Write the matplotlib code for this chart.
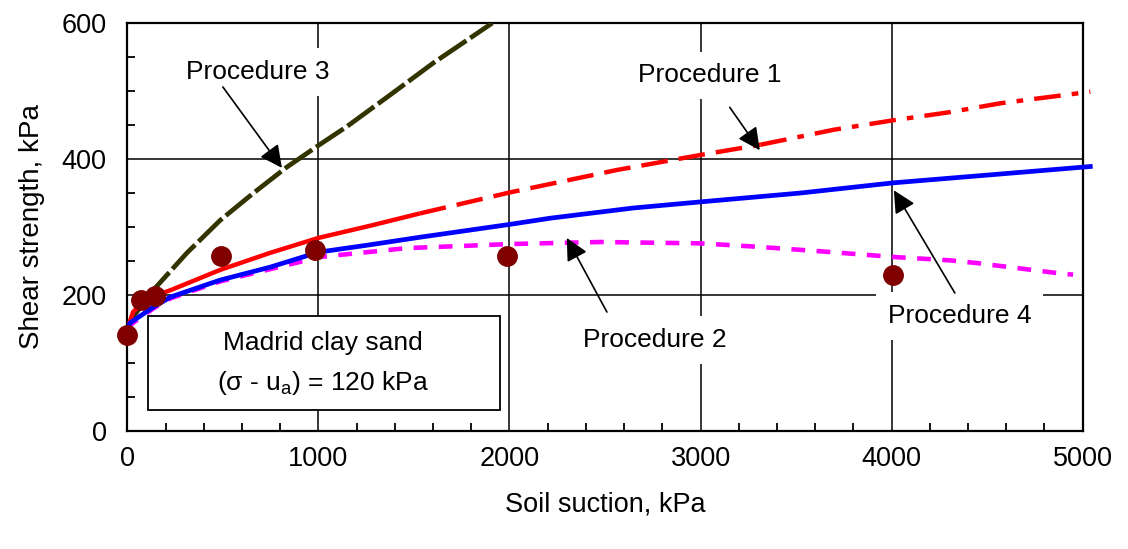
import matplotlib
matplotlib.use("Agg")
import matplotlib.pyplot as plt
from matplotlib.patches import Rectangle
from matplotlib.ticker import MultipleLocator
import numpy as np

plt.rcParams["font.family"] = ["Liberation Sans", "DejaVu Sans"]

# Procedure 3 (dark olive, dashed)
p3_x = [0, 30, 135, 312, 486, 660, 834, 1000, 1150, 1374, 1600, 1910]
p3_y = [150, 168, 207, 262, 310, 350, 388, 420, 448, 494, 541, 600]

# Procedure 1 (red, solid -> dashed -> dash-dot)
p1_x = [0, 30, 100, 225, 486, 747, 1000, 1272, 1531, 2004, 2564, 3000, 3313, 3696, 4009, 4306, 4569, 5040]
p1_y = [150, 175, 195, 207, 237, 262, 284, 302, 320, 351, 384, 406, 421, 443, 457, 469, 482, 499]

# Procedure 4 (blue, solid)
p4_x = [0, 14, 135, 225, 486, 747, 1000, 1272, 1531, 2004, 2213, 2648, 3000, 3522, 4009, 4569, 5040]
p4_y = [150, 159, 182, 197, 222, 241, 263, 274, 285, 304, 313, 328, 337, 350, 365, 378, 389]

# Procedure 2 (magenta, short dashes)
p2_x = [0, 30, 135, 225, 486, 747, 1009, 1462, 2004, 2475, 3000, 3297, 3643, 4009, 4306, 4447, 4875, 4950]
p2_y = [150, 159, 180, 195, 220, 238, 256, 269, 275, 278, 276, 271, 264, 256, 251, 247, 232, 230]

# measured shear strength
meas_x = [0, 70, 145, 490, 982, 1985, 4009]
meas_y = [141, 193, 198, 257, 266, 257, 229]

fig = plt.figure(figsize=(11.28, 5.49), dpi=100)
ax = fig.add_axes([0.1129, 0.2149, 0.8469, 0.7431])

ax.set_xlim(0, 5000)
ax.set_ylim(0, 600)
ax.xaxis.set_major_locator(MultipleLocator(1000))
ax.xaxis.set_minor_locator(MultipleLocator(200))
ax.yaxis.set_major_locator(MultipleLocator(200))
ax.yaxis.set_minor_locator(MultipleLocator(50))
ax.tick_params(which="both", direction="in", width=1.3, colors="black")
ax.tick_params(which="major", length=0, labelsize=19.5)
ax.tick_params(which="minor", length=6)
ax.tick_params(axis="x", which="major", pad=11)
ax.tick_params(axis="y", which="major", pad=15)
ax.grid(True, which="major", color="black", lw=1.1, zorder=1)
ax.set_axisbelow(True)
for s in ax.spines.values():
    s.set_linewidth(1.6)

ax.set_xlabel("Soil suction, kPa", fontsize=19.5, labelpad=14)
ax.set_ylabel("Shear strength, kPa", fontsize=20, labelpad=12)

# info box
ax.add_patch(Rectangle((108, 31), 1842, 138, facecolor="white", edgecolor="black",
                       lw=1.3, zorder=3))
ax.text(1025, 129, "Madrid clay sand", fontsize=19, ha="center", va="center", zorder=3.5)
ax.text(1025, 70, r"($\mathregular{\sigma}$ - u$_\mathregular{a}$) = 120 kPa", fontsize=19,
        ha="center", va="center", zorder=3.5)

# curves
ax.plot(p3_x, p3_y, color="#333300", lw=3.4, dashes=(7, 1), zorder=5)

p1_x = np.array(p1_x)
p1_y = np.array(p1_y)
a = p1_x <= 1531
b = (p1_x >= 1531) & (p1_x <= 3313)
c = p1_x >= 3313
ax.plot(p1_x[a], p1_y[a], color="red", lw=3.2, solid_capstyle="butt", zorder=5)
ax.plot(p1_x[b], p1_y[b], color="red", lw=3.2, dashes=(6, 2.5), zorder=5)
ax.plot(p1_x[c], p1_y[c], color="red", lw=3.2, dashes=(6, 2.5, 1.5, 2.5), zorder=5,
        clip_on=False)

ax.plot(p2_x, p2_y, color="#FF00FF", lw=3.3, dashes=(3, 2.5), zorder=4.5)
ax.plot(p4_x, p4_y, color="blue", lw=3.4, zorder=5, clip_on=False)

ax.plot(meas_x, meas_y, "o", color="#800000", ms=14, zorder=6, clip_on=False)

# labels and arrows
bb = dict(boxstyle="square,pad=0.45", facecolor="white", edgecolor="none")
arr = dict(arrowstyle="-|>", color="black", lw=1.2, mutation_scale=34,
           shrinkA=0, shrinkB=0)
labels = [
    ("Procedure 3", (684, 528), (500, 506), (809, 387)),
    ("Procedure 1", (3049, 523), (3153, 476), (3310, 413)),
    ("Procedure 2", (2760, 134), (2510, 175), (2300, 284)),
    ("Procedure 4", (4357, 169), (4331, 203), (4012, 354)),
]
for txt, pos, tail, head in labels:
    ax.text(pos[0], pos[1], txt, fontsize=19, ha="center", va="center", bbox=bb, zorder=4)
    ax.annotate("", xy=head, xytext=tail, arrowprops=arr, zorder=7)

fig.savefig("out.png", dpi=100)
